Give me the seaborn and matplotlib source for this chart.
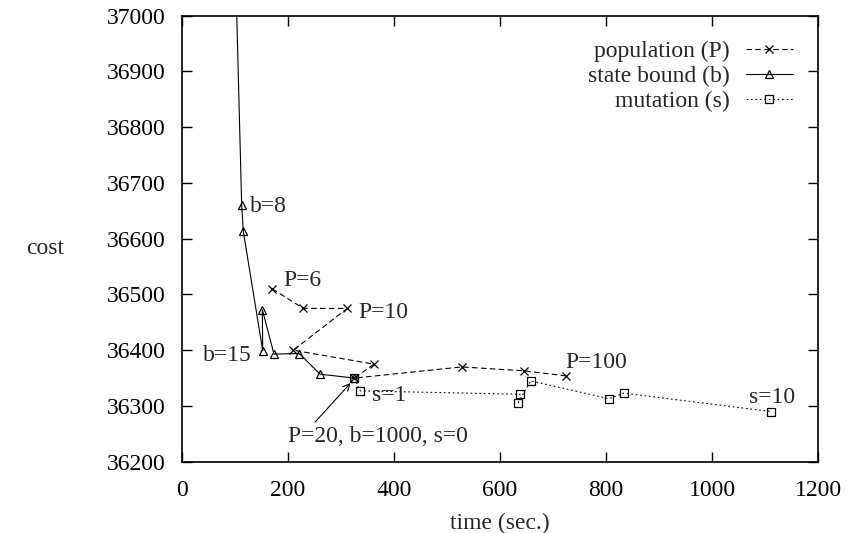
import matplotlib
matplotlib.use("Agg")
import matplotlib.pyplot as plt
import seaborn as sns
import pandas as pd

# ---- data ----
pop_time = [170.4, 228.9, 311.9, 210.0, 362.3, 325.1, 527.7, 645.3, 724.0]
pop_cost = [36510, 36475, 36475, 36400, 36375, 36350, 36370, 36363, 36354]

sb_time = [87, 112.6, 115.7, 152.3, 151.5, 173.6, 221.3, 260.4, 325.1]
sb_cost = [37600, 36660, 36613, 36399, 36473, 36393, 36394, 36357, 36350]

mut_time = [325.1, 336.4, 637.7, 634.5, 657.9, 805.7, 833.4, 1111.3]
mut_cost = [36350, 36327, 36321, 36306, 36345, 36313, 36323, 36290]

series_names = ["population (P)", "state bound (b)", "mutation (s)"]
x_ticks = [0, 200, 400, 600, 800, 1000, 1200]
y_ticks = [36200, 36300, 36400, 36500, 36600, 36700, 36800, 36900, 37000]

sns.set_theme(style="ticks")
plt.rcParams["font.family"] = ["Liberation Serif", "DejaVu Serif"]
FS = 17

fig = plt.figure(figsize=(8.48, 5.33), dpi=100)
ax = fig.add_axes([182 / 848, 1 - 461.7 / 533, 636 / 848, (461.7 - 15.7) / 533])

df_p = pd.DataFrame({"time": pop_time, "cost": pop_cost})
df_b = pd.DataFrame({"time": sb_time, "cost": sb_cost})
df_s = pd.DataFrame({"time": mut_time, "cost": mut_cost})

sns.lineplot(data=df_p, x="time", y="cost", sort=False, estimator=None, ax=ax,
             color="black", lw=0.8, marker="x", markersize=6,
             markeredgecolor="black", markeredgewidth=0.9, label=series_names[0])
ax.lines[-1].set_dashes((5, 3))
sns.lineplot(data=df_b, x="time", y="cost", sort=False, estimator=None, ax=ax,
             color="black", lw=0.8, marker="^", markersize=6, markerfacecolor="none",
             markeredgecolor="black", markeredgewidth=0.9, label=series_names[1])
sns.lineplot(data=df_s, x="time", y="cost", sort=False, estimator=None, ax=ax,
             color="black", lw=0.8, marker="s", markersize=5.5, markerfacecolor="none",
             markeredgecolor="black", markeredgewidth=0.9, label=series_names[2])
ax.lines[-1].set_dashes((1.5, 2.5))

ax.set_xlim(0, 1200)
ax.set_ylim(36200, 37000)
ax.set_xticks(x_ticks)
ax.set_yticks(y_ticks)
ax.tick_params(direction="in", length=7, width=1, top=True, right=True,
               labelsize=FS, colors="black")
ax.tick_params(axis="y", pad=12)
ax.tick_params(axis="x", pad=13)
for s in ax.spines.values():
    s.set_visible(True)
    s.set_linewidth(1.2)
    s.set_color("black")

ax.set_xlabel("time (sec.)", fontsize=FS, labelpad=9)
ax.set_ylabel("cost", fontsize=FS, rotation=0, labelpad=0, va="center", ha="center")
ax.yaxis.set_label_coords(-0.215, 0.478)

# annotations
ax.text(128, 36662, "b=8", fontsize=FS, ha="left", va="center_baseline")
ax.text(191, 36529, "P=6", fontsize=FS, ha="left", va="center_baseline")
ax.text(332, 36473, "P=10", fontsize=FS, ha="left", va="center_baseline")
ax.text(131.5, 36395, "b=15", fontsize=FS, ha="right", va="center_baseline")
ax.text(358, 36323, "s=1", fontsize=FS, ha="left", va="center_baseline")
ax.text(724, 36382, "P=100", fontsize=FS, ha="left", va="center_baseline")
ax.text(1157, 36320, "s=10", fontsize=FS, ha="right", va="center_baseline")
ax.text(200.6, 36249, "P=20, b=1000, s=0", fontsize=FS, ha="left", va="center_baseline")
ax.annotate("", xy=(318, 36341), xytext=(251, 36271),
            arrowprops=dict(arrowstyle="->", color="black", lw=0.8,
                            shrinkA=0, shrinkB=0))

leg = ax.legend(loc="upper right", markerfirst=False, frameon=False, fontsize=FS,
                handlelength=2.0, handletextpad=0.7, labelspacing=0.15,
                borderpad=0, borderaxespad=0, bbox_to_anchor=(0.9607, 0.944))

fig.savefig("out.png", dpi=100)
